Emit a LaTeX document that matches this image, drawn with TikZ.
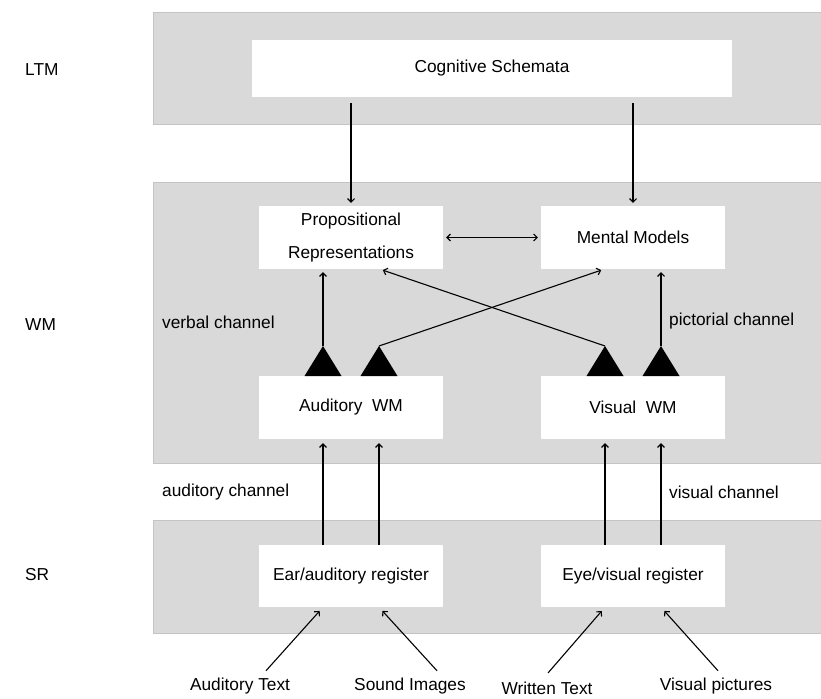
\documentclass[tikz,border=0pt]{standalone}
\usepackage{fontspec}
\setmainfont{Liberation Sans}
\usetikzlibrary{arrows.meta}
\definecolor{bandgray}{HTML}{D9D9D9}
\definecolor{bandedge}{HTML}{C4C4C4}
\begin{document}
\begin{tikzpicture}[x=1pt,y=-1pt,
  font=\fontsize{17.3}{33}\selectfont,
  band/.style={fill=bandgray,draw=bandedge,line width=0.8pt},
  box/.style={fill=white,draw=none,inner sep=0pt,align=center,minimum width=184pt,minimum height=63pt},
  lbl/.style={inner sep=0pt,anchor=west},
  src/.style={inner sep=0pt},
  conn/.style={line width=1.1pt,-{Straight Barb[length=3.5pt,width=7pt]}},
  dconn/.style={line width=1.1pt,{Straight Barb[length=3.5pt,width=7pt]}-{Straight Barb[length=3.5pt,width=7pt]}},
  tri/.style={fill=black}]
\useasboundingbox (0,0) rectangle (821,698);
\fill[white] (0,0) rectangle (821,698);
% bands
\path[band] (153,12) rectangle (824,124);
\path[band] (153,182) rectangle (824,463);
\path[band] (153,520) rectangle (824,633);
% level labels
\node[lbl] (ltm) at (25,70) {LTM};
\node[lbl] (wm) at (25,325) {WM};
\node[lbl] (sr) at (25,575) {SR};
% boxes
\node[box,minimum width=480pt,minimum height=57pt] (cs) at (492,68.5) {Cognitive Schemata};
\node[box] (prop) at (351,237.5) {Propositional\\Representations};
\node[box] (mm) at (633,237.5) {Mental Models};
\node[box] (awm) at (351,407.5) {Auditory\ \ WM};
\node[box] (vwm) at (633,407.5) {Visual\ \ WM};
\node[box,minimum height=62pt] (ear) at (351,576) {Ear/auditory register};
\node[box,minimum height=62pt] (eye) at (633,576) {Eye/visual register};
% channel labels
\node[lbl] (verbal) at (162,322) {verbal channel};
\node[lbl] (pict) at (669,321) {pictorial channel};
\node[lbl] (audch) at (162,492) {auditory channel};
\node[lbl] (visch) at (669,492) {visual channel};
% sources
\node[src] (atext) at (240,686) {Auditory Text};
\node[src] (simg) at (410,686) {Sound Images};
\node[src] (wtext) at (547,688.5) {Written Text};
\node[src] (vpic) at (716,686) {Visual pictures};
% triangles
\coordinate (t1) at (323,346);
\coordinate (t2) at (379,346);
\coordinate (t3) at (605,346);
\coordinate (t4) at (661,346);
\foreach \t in {t1,t2,t3,t4}{
  \fill[tri] ([xshift=-18.5pt,yshift=-30pt]\t) -- (\t) -- ([xshift=18.5pt,yshift=-30pt]\t) -- cycle;
}
% LTM -> WM
\draw[conn,shorten <=6pt,shorten >=3pt] (cs.south -| prop.north) -- (prop.north);
\draw[conn,shorten <=6pt,shorten >=3pt] (cs.south -| mm.north) -- (mm.north);
\draw[dconn,shorten <=3pt,shorten >=3pt] (prop.east) -- (mm.west);
% WM internal
\draw[conn,shorten >=3pt] (t1) -- (prop.south -| t1);
\draw[conn,shorten >=3pt] (t4) -- (mm.south -| t4);
\draw[conn,shorten >=3pt] (t2) -- ([xshift=-29pt]mm.south);
\draw[conn,shorten >=3pt] (t3) -- ([xshift=29pt]prop.south);
% SR -> WM
\draw[conn,shorten >=4pt] (ear.north -| t1) -- (awm.south -| t1);
\draw[conn,shorten >=4pt] (ear.north -| t2) -- (awm.south -| t2);
\draw[conn,shorten >=4pt] (eye.north -| t3) -- (vwm.south -| t3);
\draw[conn,shorten >=4pt] (eye.north -| t4) -- (vwm.south -| t4);
% sources -> SR
\draw[conn,shorten >=5pt] ([shift={(26,-7)}]atext.north) -- (ear.south -| t1);
\draw[conn,shorten >=5pt] ([shift={(27,-7)}]simg.north) -- (ear.south -| t2);
\draw[conn,shorten >=5pt] ([shift={(1,-9)}]wtext.north) -- (eye.south -| t3);
\draw[conn,shorten >=5pt] ([shift={(2,-7)}]vpic.north) -- (eye.south -| t4);
\end{tikzpicture}
\end{document}
